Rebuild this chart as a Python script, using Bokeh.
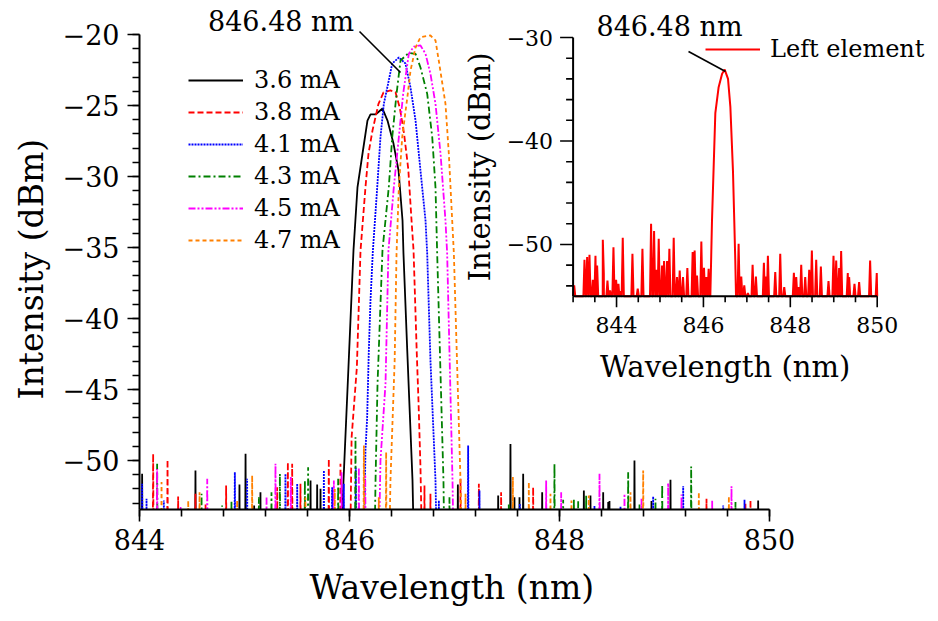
import numpy as np
from bokeh.plotting import figure
from bokeh.models import Range1d, FixedTicker, Legend, LegendItem, Title
from bokeh.core.properties import value
from bokeh.embed import file_html
from bokeh.resources import INLINE

FONT = "DejaVu Serif"

# ---------------- data ----------------
labels = ["3.6 mA", "3.8 mA", "4.1 mA", "4.3 mA", "4.5 mA", "4.7 mA"]
colors = ["#000000", "#ff0000", "#0000ff", "#008000", "#ff00ff", "#ff8000"]
dashes = ["solid", "6 3", "2 1", "7 3 2 3", "7 2 2 2 2 2", "4 3"]

# emission peaks (wavelength nm, intensity dBm)
peak36_x = [845.90, 845.943, 845.99, 846.038, 846.076, 846.124, 846.171, 846.2, 846.248, 846.314, 846.362,
            846.419, 846.467, 846.505, 846.514, 846.55, 846.6, 846.625]
peak36_y = [-60, -51.4, -43.45, -35.2, -30.77, -28.38, -26.06, -25.63, -25.63, -25.21, -26.06,
            -27.68, -29.58, -33.1, -35.42, -42.25, -51.4, -60]
peak38_x = [846.0, 846.02, 846.07, 846.105, 846.152, 846.181, 846.219, 846.276, 846.324, 846.39, 846.438,
            846.48, 846.52, 846.56, 846.59, 846.61, 846.64, 846.657, 846.676, 846.70]
peak38_y = [-60, -48.38, -43.45, -35.2, -30.77, -28.38, -26.76, -24.88, -24.08, -23.94, -24.06,
            -25.2, -27.0, -29.5, -33.0, -35.2, -42.3, -45.8, -50.5, -60]
peak41_x = [846.13, 846.152, 846.168, 846.184, 846.2, 846.222, 846.264, 846.295, 846.327, 846.374, 846.407,
            846.47, 846.533, 846.581, 846.629, 846.676, 846.724, 846.74, 846.771, 846.819, 846.84]
peak41_y = [-60, -49.3, -46.97, -42.25, -38.73, -35.3, -30.77, -27.23, -24.88, -23.24, -22.04,
            -21.62, -22.04, -23.73, -26.06, -29.58, -33.1, -35.42, -42.96, -51.4, -60]
peak43_x = [846.23, 846.248, 846.267, 846.314, 846.374, 846.407, 846.448, 846.486, 846.565, 846.629, 846.676,
            846.74, 846.788, 846.819, 846.835, 846.895, 846.91]
peak43_y = [-60, -51.4, -44.58, -35.2, -30.77, -27.23, -24.18, -21.83, -21.29, -21.36, -22.32,
            -24.18, -27.23, -30.77, -35.42, -51.4, -60]
peak45_x = [846.27, 846.295, 846.343, 846.371, 846.422, 846.47, 846.511, 846.565, 846.613, 846.676, 846.724,
            846.771, 846.819, 846.867, 846.914, 846.93, 846.981, 847.0]
peak45_y = [-60, -50.0, -44.58, -35.2, -30.77, -27.23, -24.18, -21.36, -20.85, -20.77, -21.36,
            -22.77, -24.88, -28.40, -33.10, -35.42, -51.4, -60]
peak47_x = [846.37, 846.39, 846.43, 846.448, 846.47, 846.502, 846.555, 846.581, 846.629, 846.676, 846.771,
            846.819, 846.85, 846.914, 846.946, 846.978, 846.994, 847.057, 847.08]
peak47_y = [-60, -51.4, -43.0, -35.42, -30.77, -27.23, -24.18, -22.54, -20.92, -20.19, -20.07,
            -20.42, -21.83, -24.88, -28.40, -33.10, -35.42, -51.4, -60]

# noise spikes (wavelength nm, intensity dBm)
spk36_x = [844.025, 844.533, 844.952, 845.010, 845.092, 845.152, 845.629, 845.692, 845.724, 847.032, 847.416,
           847.533, 847.571, 847.619, 847.654, 847.835, 848.232, 848.295, 848.416, 848.464, 848.476, 848.714,
           848.876, 849.057, 849.892]
spk36_y = [-50.94, -50.70, -51.69, -49.53, -53.17, -52.23, -51.41, -51.69, -51.99, -51.69, -52.47,
           -48.83, -52.58, -52.58, -50.94, -52.23, -52.11, -52.47, -52.23, -52.93, -52.86, -50.0,
           -52.86, -51.36, -52.82]
spk38_x = [844.130, 844.267, 844.368, 844.533, 844.629, 844.825, 845.311, 845.413, 845.454, 845.533, 845.803,
           845.914, 846.714, 846.771, 847.057, 847.232, 847.444, 847.749, 849.4, 849.771, 849.819]
spk38_y = [-49.53, -49.95, -52.53, -52.35, -53.10, -51.76, -51.88, -50.12, -50.23, -51.64, -49.88,
           -50.23, -51.76, -52.35, -51.29, -51.64, -52.23, -51.88, -52.70, -53.0, -52.77]
spk41_x = [844.025, 844.067, 844.232, 844.908, 845.025, 845.390, 845.502, 845.756, 845.835, 845.946, 846.06,
           846.851, 847.13, 847.238, 847.622, 848.333, 848.581, 848.892, 849.178, 849.559, 849.762]
spk41_y = [-51.64, -52.70, -52.82, -50.82, -51.29, -50.94, -51.64, -50.70, -51.88, -51.64, -50.5,
           -52.82, -48.94, -52.11, -53.05, -53.2, -53.24, -52.53, -51.82, -53.17, -52.77]
spk43_x = [844.168, 844.591, 844.787, 844.876, 845.137, 845.257, 845.337, 845.575, 845.606, 845.892, 846.057,
           846.952, 847.517, 847.952, 848.035, 848.137, 848.178, 848.254, 848.654, 848.762, 848.914, 848.978,
           849.254, 849.676]
spk43_y = [-50.23, -52.35, -53.17, -52.82, -52.58, -52.23, -50.94, -51.41, -50.47, -51.29, -48.36,
           -52.58, -53.05, -50.23, -52.77, -52.70, -52.86, -52.42, -50.82, -53.1, -52.70, -51.69,
           -50.42, -52.93]
spk45_x = [844.168, 844.391, 844.645, 845.210, 845.295, 845.441, 845.851, 845.924, 846.089, 846.15, 847.873,
           848.016, 848.381, 848.619, 848.781, 849.035, 849.162, 849.454, 849.638]
spk45_y = [-50.59, -53.24, -51.29, -52.58, -50.23, -51.17, -51.41, -50.82, -50.5, -51.0, -51.41,
           -52.23, -50.94, -52.35, -52.7, -51.6, -52.40, -52.82, -51.82]
spk47_x = [844.210, 844.464, 844.572, 844.930, 845.073, 845.58, 845.86, 846.137, 846.279, 846.349, 847.105,
           847.556, 847.708, 847.914, 848.114, 848.279, 848.676, 848.797, 849.327, 849.613]
spk47_y = [-51.52, -52.82, -52.23, -52.82, -51.06, -52.6, -52.0, -48.94, -52.58, -49.41, -52.35,
           -51.17, -51.52, -52.35, -52.82, -52.47, -52.23, -50.70, -52.23, -52.53]

# inset: left element spectrum
inset_peak_x = [846.159, 846.197, 846.274, 846.35, 846.43, 846.49, 846.566, 846.62, 846.68, 846.71, 846.733, 846.75]
inset_peak_y = [-55, -47.7, -37.3, -34.8, -33.5, -33.1, -34.0, -36.7, -42.9, -47.7, -51.5, -55]
inset_spk_x = [843.025, 843.262, 843.323, 843.377, 843.454, 843.515, 843.553, 843.684, 843.707, 843.791, 843.852,
               843.929, 843.99, 844.044, 844.09, 844.143, 844.366, 844.488, 844.596, 844.795, 844.864, 844.917,
               844.971, 845.048, 845.094, 845.163, 845.216, 845.316, 845.392, 845.454, 845.53, 845.63, 845.752,
               845.798, 845.852, 845.952, 846.013, 846.067, 846.12, 846.81, 846.871, 846.94, 847.024, 847.132,
               847.208, 847.392, 847.438, 847.484, 847.653, 847.768, 847.86, 848.082, 848.136, 848.19, 848.251,
               848.343, 848.435, 848.496, 848.596, 848.703, 848.879, 848.994, 849.056, 849.124, 849.17, 849.323,
               849.354, 849.477, 849.584, 849.837, 849.99]
inset_spk_y = [-53.96, -51.48, -51.22, -51.0, -53.41, -51.09, -52.03, -49.55, -52.83, -53.48, -54.44,
               -50.26, -53.41, -53.8, -54.51, -49.36, -50.90, -54.28, -50.42, -48.0, -48.71, -52.45,
               -49.45, -52.03, -51.61, -51.61, -50.42, -49.36, -53.16, -52.51, -53.16, -52.29, -50.74,
               -50.58, -53.0, -49.71, -52.25, -53.16, -52.35, -49.93, -53.09, -53.96, -54.7, -51.96,
               -53.09, -51.77, -53.09, -51.09, -52.67, -50.9, -54.12, -52.74, -53.16, -54.12, -51.96,
               -53.16, -52.45, -50.58, -51.48, -52.13, -53.54, -51.09, -51.55, -52.29, -50.64, -52.77,
               -53.16, -53.8, -53.64, -51.55, -52.77]

main_xticks = [844, 846, 848, 850]
main_yticks = [-50, -45, -40, -35, -30, -25, -20]
inset_xticks = [844, 846, 848, 850]
inset_yticks = [-30, -40, -50]

x_title = "Wavelength (nm)"
y_title = "Intensity (dBm)"
annot_text = "846.48 nm"
# annotation anchor (text) and leader line end points, main plot
annot_main_text = (845.348, -19.72)
annot_main_line = ([846.095], [-19.79], [846.486], [-22.68])
# annotation in inset
annot_inset_text = (845.219, -29.9)
annot_inset_line = ([845.657], [-31.35], [846.508], [-33.29])


def build(peak_x, peak_y, spike_x, spike_y, floor, half, lo, hi):
    pts = [(lo, floor), (hi, floor)]
    pts += list(zip(peak_x, peak_y))
    for sx, sy in zip(spike_x, spike_y):
        pts += [(sx - half, floor), (sx, sy), (sx + half, floor)]
    pts.sort()
    xs, ys = zip(*pts)
    return list(xs), list(ys)


# ---------------- geometry ----------------
W, H = 938, 621
FL, FR, FT, FB = 139, 930, 5, 509          # frame edges in pixels
mx_ppu = (769 - 139) / 6.0
my_ppu = (509 - 34) / 33.45
main_x = Range1d(844, 844 + (FR - FL) / mx_ppu)
main_y = Range1d(-53.45, -20 + (34 - FT) / my_ppu)
IXL, IXR, IYT, IYB = 572.6, 876.7, 37.0, 295.7
ix_ppu = (IXR - IXL) / 7.0
iy_ppu = (IYB - IYT) / 25.0
inset_x = Range1d(843 - (IXL - FL) / ix_ppu, 850 + (FR - IXR) / ix_ppu)
inset_y = Range1d(-55 - (FB - IYB) / iy_ppu, -30 + (IYT - FT) / iy_ppu)

p = figure(width=W, height=H, output_backend="svg", toolbar_location=None,
           x_range=main_x, y_range=main_y,
           min_border_left=FL, min_border_right=W - FR, min_border_top=FT, min_border_bottom=H - FB)
p.extra_x_ranges = {"ix": inset_x}
p.extra_y_ranges = {"iy": inset_y}
p.xgrid.visible = False
p.ygrid.visible = False
p.outline_line_color = None
p.background_fill_color = "white"
p.border_fill_color = "white"

peaks = [(peak36_x, peak36_y), (peak38_x, peak38_y), (peak41_x, peak41_y),
         (peak43_x, peak43_y), (peak45_x, peak45_y), (peak47_x, peak47_y)]
spikes = [(spk36_x, spk36_y), (spk38_x, spk38_y), (spk41_x, spk41_y),
          (spk43_x, spk43_y), (spk45_x, spk45_y), (spk47_x, spk47_y)]

items = []
for (px_, py_), (sx_, sy_), lab, col, dash in zip(peaks, spikes, labels, colors, dashes):
    xs, ys = build(px_, py_, sx_, sy_, -60, 0.006, 844.0, 850.0)
    r = p.line(xs, ys, line_color=col, line_width=1.8, line_dash=dash)
    items.append(LegendItem(label=lab, renderers=[r]))

# main axes
ax = p.xaxis[0]
ax.bounds = (844, 850)
ax.ticker = FixedTicker(ticks=main_xticks, minor_ticks=[round(844 + 0.4 * i, 2) for i in range(16)])
ax.major_label_overrides = {t: str(t) for t in main_xticks}
ay = p.yaxis[0]
ay.bounds = (-53.45, -20)
ay.ticker = FixedTicker(ticks=main_yticks, minor_ticks=list(range(-53, -19)))
ay.major_label_overrides = {t: "\u2212" + str(abs(t)) for t in main_yticks}
for a in (ax, ay):
    a.axis_line_width = 2
    a.axis_line_color = "black"
    a.major_tick_out = 12
    a.major_tick_in = 0
    a.minor_tick_out = 7
    a.minor_tick_in = 0
    a.major_tick_line_width = 1.6
    a.minor_tick_line_width = 1.6
    a.major_tick_line_color = "black"
    a.minor_tick_line_color = "black"
    a.major_label_text_font = FONT
    a.major_label_text_font_size = "27px"
    a.major_label_text_color = "black"
ax.major_label_standoff = 7
ay.major_label_standoff = 8

# main axis titles as side-panel titles, placed at the centre of the axis extent
p.add_layout(Title(text=x_title, align="left", offset=170, standoff=26,
                   text_font=FONT, text_font_size="33px", text_font_style="normal", text_color="black"),
             "below")
p.add_layout(Title(text=y_title, align="left", offset=110, standoff=18,
                   text_font=FONT, text_font_size="33px", text_font_style="normal", text_color="black"),
             "left")

# inset spectrum
ixs, iys = build(inset_peak_x, inset_peak_y, inset_spk_x, inset_spk_y, -55, 0.025, 843.0, 850.0)
ri = p.line(ixs, iys, line_color="#ff0000", line_width=2, x_range_name="ix", y_range_name="iy")

# inset axes (drawn through the inset scales)
kw = dict(x_range_name="ix", y_range_name="iy")
p.segment(x0=[843, 843], y0=[-55, -55], x1=[850, 843], y1=[-55, -30], line_color="black", line_width=2, **kw)
p.ray(x=inset_xticks, y=[-55] * len(inset_xticks), length=11, angle=-np.pi / 2, length_units="screen",
      line_color="black", line_width=1.6, **kw)
ixminor = [843 + 0.5 * i for i in range(15) if (843 + 0.5 * i) not in inset_xticks]
p.ray(x=ixminor, y=[-55] * len(ixminor), length=6, angle=-np.pi / 2, length_units="screen",
      line_color="black", line_width=1.6, **kw)
p.ray(x=[843] * len(inset_yticks), y=inset_yticks, length=13, angle=np.pi, length_units="screen",
      line_color="black", line_width=1.6, **kw)
iyminor = [v for v in range(-54, -29, 2) if v not in inset_yticks]
p.ray(x=[843] * len(iyminor), y=iyminor, length=7, angle=np.pi, length_units="screen",
      line_color="black", line_width=1.6, **kw)
p.text(x=inset_xticks, y=[-55] * len(inset_xticks), text=[str(t) for t in inset_xticks],
       text_font=value(FONT), text_font_size="22px", text_align="center", text_baseline="middle",
       y_offset=29, text_color="black", **kw)
p.text(x=[843] * len(inset_yticks), y=inset_yticks, text=["\u2212" + str(abs(t)) for t in inset_yticks],
       text_font=value(FONT), text_font_size="22px", text_align="right", text_baseline="middle",
       x_offset=-20, text_color="black", **kw)
p.text(x=[846.5], y=[-55], text=[x_title], text_font=value(FONT), text_font_size="29px",
       text_align="center", text_baseline="middle", y_offset=71, text_color="black", **kw)
p.text(x=[843], y=[-42.5], text=[y_title], text_font=value(FONT), text_font_size="29px",
       text_align="center", text_baseline="middle", angle=np.pi / 2, x_offset=-93, text_color="black", **kw)

# annotations
p.segment(x0=annot_main_line[0], y0=annot_main_line[1], x1=annot_main_line[2], y1=annot_main_line[3],
          line_color="black", line_width=1.6)
p.text(x=[annot_main_text[0]], y=[annot_main_text[1]], text=[annot_text], text_font=value(FONT),
       text_font_size="27px", text_align="center", text_baseline="alphabetic", y_offset=-9,
       text_color="black")
p.segment(x0=annot_inset_line[0], y0=annot_inset_line[1], x1=annot_inset_line[2], y1=annot_inset_line[3],
          line_color="black", line_width=1.6, **kw)
p.text(x=[annot_inset_text[0]], y=[annot_inset_text[1]], text=[annot_text], text_font=value(FONT),
       text_font_size="27px", text_align="center", text_baseline="alphabetic", y_offset=-10,
       text_color="black", **kw)

# legends
leg = Legend(items=items, location=(49, 255), label_text_font=FONT, label_text_font_size="24px",
             label_text_color="black",
             glyph_width=55, glyph_height=28, label_height=28, spacing=4, padding=0, margin=0,
             label_standoff=11, border_line_color=None, background_fill_alpha=0)
p.add_layout(leg)
leg2 = Legend(items=[LegendItem(label="Left element", renderers=[ri])], location=(566, 446),
              label_text_font=FONT, label_text_font_size="24px", label_text_color="black",
              glyph_width=55, glyph_height=28,
              label_height=28, spacing=4, padding=0, margin=0, label_standoff=10,
              border_line_color=None, background_fill_alpha=0)
p.add_layout(leg2)

open("out.html", "w").write(file_html(p, INLINE))
